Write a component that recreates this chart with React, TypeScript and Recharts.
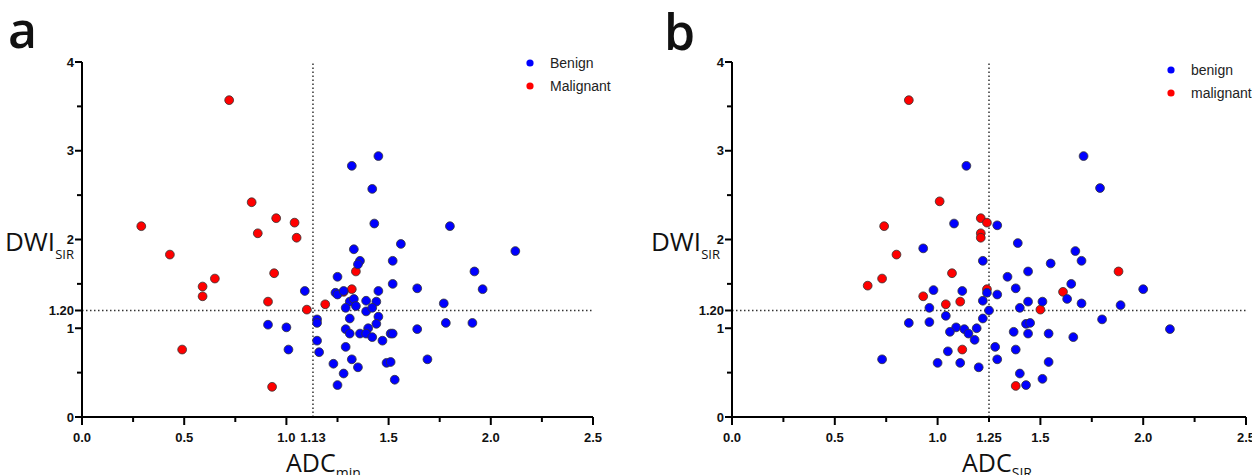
import React from "react";
import { ScatterChart, Scatter, XAxis, YAxis, ReferenceLine, Legend } from "recharts";

// panel a: ADCmin (x) vs DWI SIR (y)
const benignA: [number, number][] = [
  [1.32, 2.83], [1.45, 2.94], [1.42, 2.57], [1.43, 2.18], [1.8, 2.15], [2.12, 1.87], [1.56, 1.95],
  [1.33, 1.89], [1.36, 1.76], [1.35, 1.72], [1.52, 1.76], [1.25, 1.58], [1.52, 1.5], [1.64, 1.45],
  [1.92, 1.64], [1.96, 1.44], [1.09, 1.42], [1.24, 1.4], [1.25, 1.38], [1.28, 1.42], [1.45, 1.42],
  [1.31, 1.3], [1.33, 1.33], [1.39, 1.31], [1.44, 1.3], [1.29, 1.23], [1.34, 1.25], [1.39, 1.19],
  [1.42, 1.23], [1.45, 1.13], [1.77, 1.28], [1.15, 1.1], [1.15, 1.06], [1.31, 1.11], [1.44, 1.05],
  [1.78, 1.06], [1.91, 1.06], [0.91, 1.04], [1.0, 1.01], [1.29, 0.99], [1.31, 0.94], [1.36, 0.94],
  [1.4, 1.0], [1.39, 0.94], [1.42, 0.9], [1.51, 0.94], [1.52, 0.94], [1.64, 0.99], [1.15, 0.86],
  [1.01, 0.76], [1.16, 0.73], [1.47, 0.86], [1.29, 0.79], [1.69, 0.65], [1.23, 0.6], [1.32, 0.65],
  [1.35, 0.56], [1.49, 0.61], [1.51, 0.62], [1.28, 0.49], [1.25, 0.36], [1.53, 0.42],
];
const malignantA: [number, number][] = [
  [0.72, 3.57], [0.29, 2.15], [0.83, 2.42], [0.95, 2.24], [1.04, 2.19], [0.86, 2.07], [1.05, 2.02],
  [0.43, 1.83], [0.65, 1.56], [0.59, 1.47], [0.59, 1.36], [0.49, 0.76], [0.94, 1.62], [0.91, 1.3],
  [1.1, 1.21], [1.19, 1.27], [1.34, 1.64], [1.32, 1.44], [1.28, 1.41], [0.93, 0.34],
];

// panel b: ADC SIR (x) vs DWI SIR (y)
const benignB: [number, number][] = [
  [1.14, 2.83], [1.71, 2.94], [1.79, 2.58], [1.08, 2.18], [1.29, 2.16], [0.93, 1.9], [1.39, 1.96],
  [1.22, 1.76], [1.67, 1.87], [1.7, 1.76], [1.55, 1.73], [1.44, 1.64], [1.34, 1.58], [1.65, 1.5],
  [1.38, 1.45], [2.0, 1.44], [0.98, 1.43], [1.12, 1.42], [1.24, 1.4], [1.29, 1.38], [1.63, 1.33],
  [1.22, 1.31], [1.44, 1.3], [1.51, 1.3], [1.7, 1.28], [1.89, 1.26], [0.96, 1.23], [1.4, 1.23],
  [1.25, 1.2], [1.04, 1.14], [1.22, 1.11], [1.8, 1.1], [0.86, 1.06], [0.96, 1.07], [1.43, 1.05],
  [1.45, 1.06], [1.09, 1.01], [1.13, 0.99], [1.19, 1.0], [1.06, 0.96], [1.15, 0.94], [1.37, 0.96],
  [1.44, 0.94], [1.54, 0.94], [2.13, 0.99], [1.18, 0.87], [1.66, 0.9], [1.28, 0.79], [1.38, 0.76],
  [1.05, 0.74], [1.0, 0.61], [1.11, 0.61], [1.2, 0.56], [1.29, 0.65], [1.54, 0.62], [1.4, 0.49],
  [1.51, 0.43], [1.43, 0.36], [0.73, 0.65],
];
const malignantB: [number, number][] = [
  [0.86, 3.57], [1.01, 2.43], [0.74, 2.15], [1.21, 2.24], [1.24, 2.19], [1.21, 2.07], [1.21, 2.02],
  [0.8, 1.83], [1.07, 1.62], [1.88, 1.64], [0.73, 1.56], [0.66, 1.48], [0.93, 1.36], [1.04, 1.27],
  [1.11, 1.3], [1.24, 1.44], [1.61, 1.41], [1.5, 1.21], [1.12, 0.76], [1.38, 0.35],
];

const xTicks = [0, 0.25, 0.5, 0.75, 1, 1.25, 1.5, 1.75, 2, 2.25, 2.5];
const yTicks = [0, 0.5, 1, 1.2, 1.5, 2, 2.5, 3, 3.5, 4];
const cutA = 1.13;
const cutB = 1.25;
const cutY = 1.2;

const BLUE = "#0000ff";
const RED = "#ff0000";
const TICK_FONT = "'Liberation Sans', Arial, sans-serif";
const TITLE_FONT = "'Open Sans', sans-serif";

const toPoints = (rows: [number, number][]) => rows.map(([x, y]) => ({ x, y }));
const near = (a: number, b: number) => Math.abs(a - b) < 1e-6;

function XTick(props: any) {
  const { x, y, payload, cut } = props;
  const v = payload.value;
  const major = near(v * 2, Math.round(v * 2));
  const quarter = near(v * 4, Math.round(v * 4));
  const isCut = near(v, cut);
  const len = major ? 8 : quarter ? 5 : 0;
  const label = major ? v.toFixed(1) : isCut ? v.toFixed(2) : null;
  return (
    <g>
      {len > 0 && <line x1={x} x2={x} y1={y} y2={y + len} stroke="#000" strokeWidth={2} />}
      {label && (
        <text x={x} y={y + 25} textAnchor="middle" fontFamily={TICK_FONT} fontWeight="bold" fontSize={13} fill="#111">
          {label}
        </text>
      )}
    </g>
  );
}

function YTick(props: any) {
  const { x, y, payload } = props;
  const v = payload.value;
  const whole = near(v, Math.round(v));
  const isCut = near(v, cutY);
  const len = whole || isCut ? 7 : 5;
  const label = whole ? String(v) : isCut ? v.toFixed(2) : null;
  return (
    <g>
      <line x1={x - len} x2={x} y1={y} y2={y} stroke="#000" strokeWidth={2} />
      {label && (
        <text x={x - len - 1} y={y + 4.5} textAnchor="end" fontFamily={TICK_FONT} fontWeight="bold" fontSize={13} fill="#111">
          {label}
        </text>
      )}
    </g>
  );
}

const dot = (fill: string) => (p: any) =>
  <circle cx={p.cx} cy={p.cy} r={4.4} fill={fill} stroke="#333" strokeWidth={0.8} />;

function LegendBox({ labels }: { labels: string[] }) {
  const colors = [BLUE, RED];
  return (
    <div style={{ fontFamily: "Arial, 'Liberation Sans', sans-serif", fontSize: 14, color: "#222" }}>
      {labels.map((l, i) => (
        <div key={l} style={{ display: "flex", alignItems: "center", height: 23 }}>
          <svg width={8} height={8}>
            <circle cx={4} cy={4} r={3.6} fill={colors[i]} />
          </svg>
          <span style={{ marginLeft: 16 }}>{l}</span>
        </div>
      ))}
    </div>
  );
}

function Panel({ benign, malignant, cut, width, rightMargin, legend, legendPos }: any) {
  const ticks = xTicks.includes(cut) ? xTicks : [...xTicks, cut].sort((a, b) => a - b);
  return (
    <ScatterChart width={width} height={475} margin={{ top: 62, right: rightMargin, bottom: 0, left: 0 }}>
      <XAxis
        type="number"
        dataKey="x"
        domain={[0, 2.5]}
        ticks={ticks}
        interval={0}
        height={58}
        tickSize={0}
        tickMargin={0}
        tickLine={false}
        axisLine={{ stroke: "#000", strokeWidth: 2 }}
        tick={<XTick cut={cut} />}
      />
      <YAxis
        type="number"
        dataKey="y"
        domain={[0, 4]}
        ticks={yTicks}
        interval={0}
        width={82}
        tickSize={0}
        tickMargin={0}
        tickLine={false}
        axisLine={{ stroke: "#000", strokeWidth: 2 }}
        tick={<YTick />}
      />
      <ReferenceLine x={cut} stroke="#333" strokeWidth={1.5} strokeDasharray="1.5 2.5" />
      <ReferenceLine y={cutY} stroke="#333" strokeWidth={1.5} strokeDasharray="1.5 2.5" />
      <Legend
        layout="vertical"
        align="center"
        verticalAlign="middle"
        wrapperStyle={{ position: "absolute", left: legendPos[0], top: legendPos[1], width: 120 }}
        content={() => <LegendBox labels={legend} />}
      />
      <Scatter name={legend[1]} data={toPoints(malignant)} shape={dot(RED)} isAnimationActive={false} />
      <Scatter name={legend[0]} data={toPoints(benign)} shape={dot(BLUE)} isAnimationActive={false} />
    </ScatterChart>
  );
}

export default function App() {
  return (
    <div style={{ position: "relative", width: 1252, height: 475, background: "#fff", overflow: "hidden" }}>
      <style>{"body{margin:0}"}</style>
      <div style={{ position: "absolute", left: 0, top: 0 }}>
        <Panel benign={benignA} malignant={malignantA} cut={cutA} width={640} rightMargin={47}
          legend={["Benign", "Malignant"]} legendPos={[526, 51]} />
      </div>
      <div style={{ position: "absolute", left: 650, top: 0 }}>
        <Panel benign={benignB} malignant={malignantB} cut={cutB} width={602} rightMargin={6}
          legend={["benign", "malignant"]} legendPos={[517, 58]} />
      </div>
      <svg width={1252} height={475} style={{ position: "absolute", left: 0, top: 0, pointerEvents: "none" }}>
        <g fontFamily={TITLE_FONT} fill="#111">
          <text x={8} y={48} fontSize={50} fontWeight={600}>a</text>
          <text x={664} y={50} fontSize={50} fontWeight={600}>b</text>
          <text x={5} y={251} fontSize={26}>DWI<tspan fontSize={13} dy={8}>SIR</tspan></text>
          <text x={651} y={251} fontSize={26}>DWI<tspan fontSize={13} dy={8}>SIR</tspan></text>
          <text x={286} y={472} fontSize={25}>ADC<tspan fontSize={14} dy={6}>min</tspan></text>
          <text x={962} y={472} fontSize={25}>ADC<tspan fontSize={14} dy={6}>SIR</tspan></text>
        </g>
      </svg>
    </div>
  );
}
